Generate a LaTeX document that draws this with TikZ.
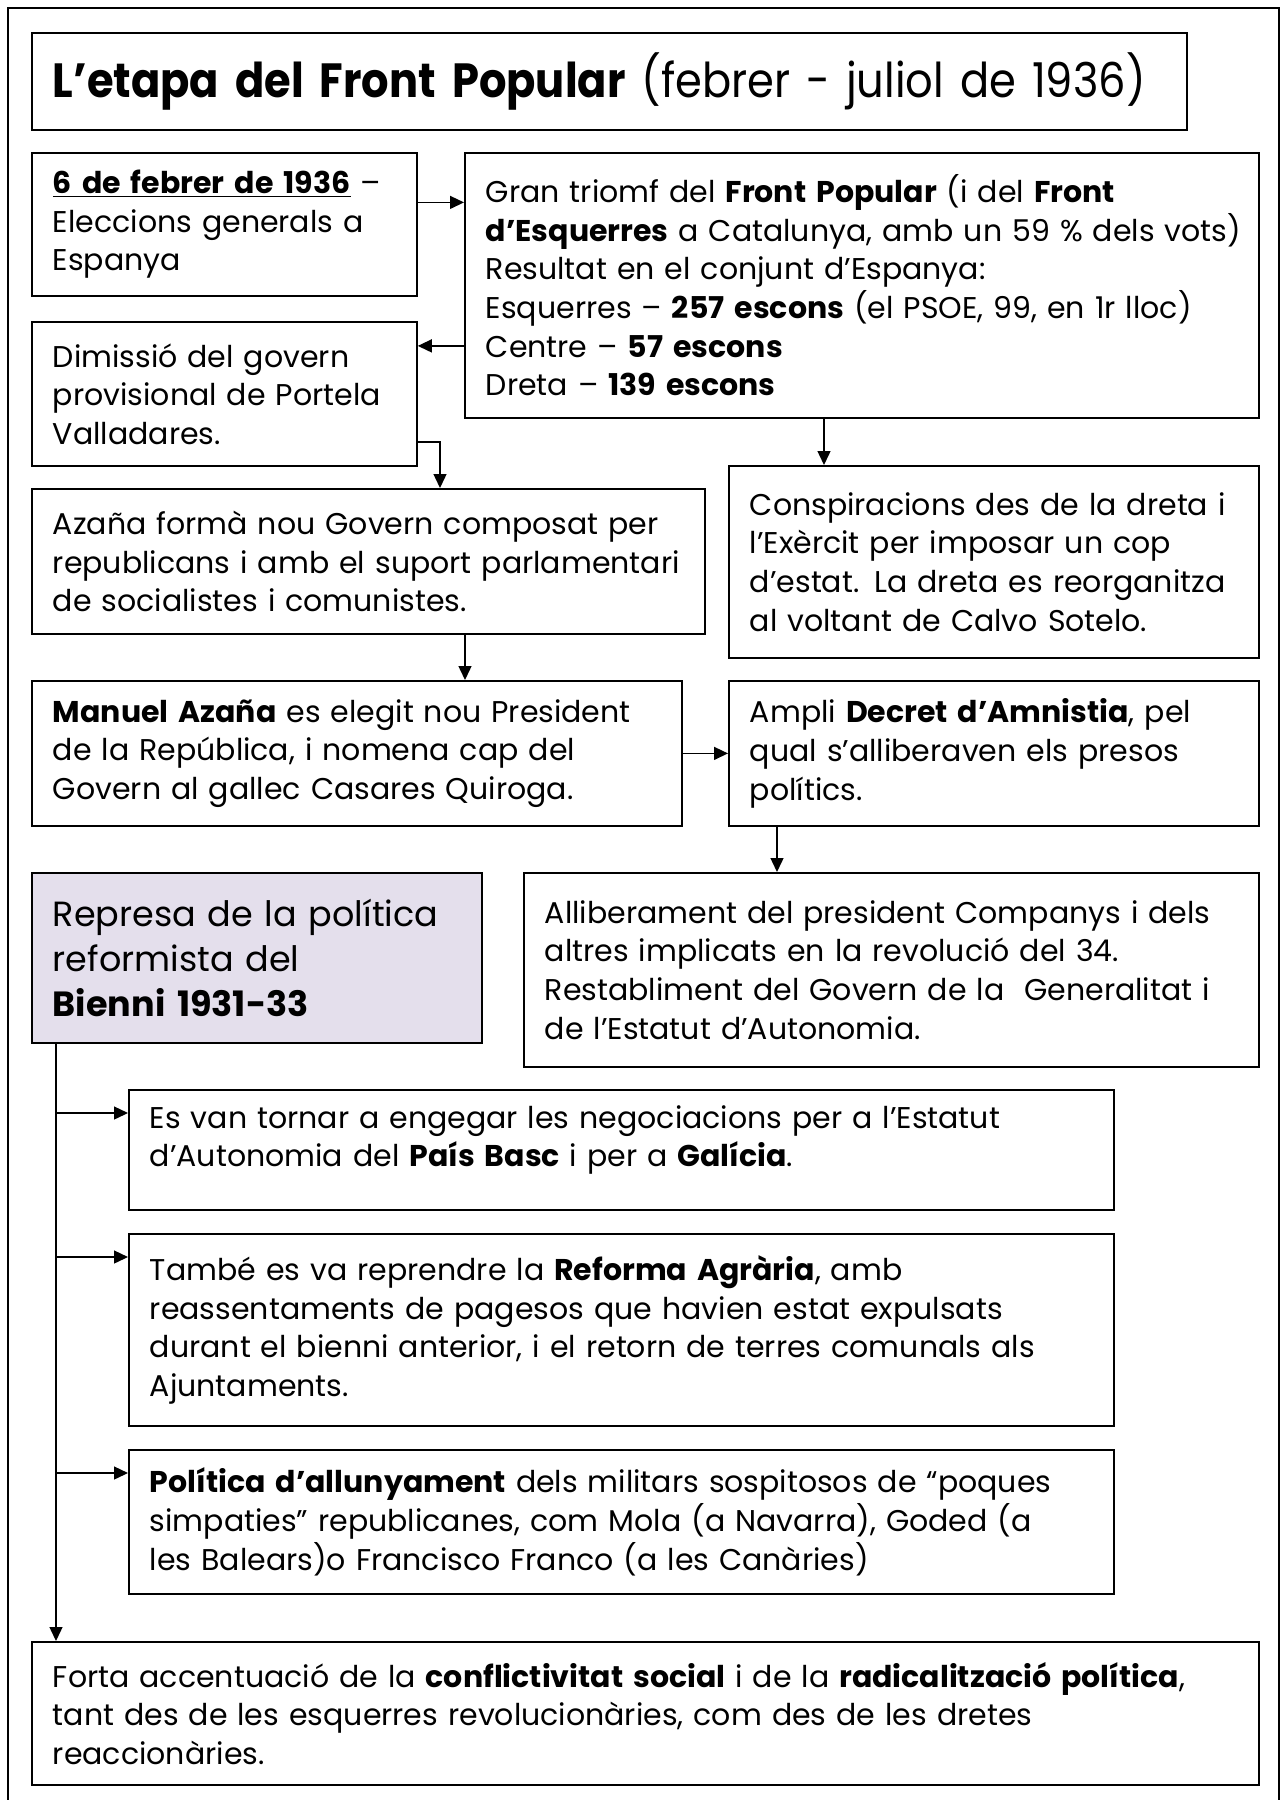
\documentclass[tikz,border=0pt]{standalone}
\usepackage{fontspec}
\setmainfont{Poppins}
\newfontfamily\titlefont{Poppins}[FakeStretch=0.9,BoldFeatures={FakeStretch=0.9}]
\usepackage{xcolor}
\usetikzlibrary{arrows.meta,calc}
\definecolor{lavanda}{RGB}{228,223,236}

\tikzset{
  box/.style={draw, line width=0.9pt, anchor=north west, align=left,
    inner xsep=10.5pt, inner ysep=0pt, font=\fontsize{15}{19.3}\selectfont},
  link/.style={-{Triangle[length=7pt,width=6.5pt]}, line width=0.7pt},
}

\begin{document}
\begin{tikzpicture}[x=0.5pt,y=-0.5pt]
    \useasboundingbox (0,0) rectangle (1284,1800);

    % Outer frame (open at the bottom of the page)
    \draw[line width=1.3pt] (8,1830) rectangle (1279,8);

    % Title
    \node[box, text width=556.5pt, minimum height=48.5pt, font=\titlefont\fontsize{24}{28}\selectfont] (title) at (31,32)
        {\textbf{L’etapa del Front Popular} (febrer - juliol de 1936)};

    % Elections
    \node[box, text width=171.5pt, minimum height=71.5pt] (b1) at (31,152)
        {\underline{\textbf{6 de febrer de 1936}} –\\ Eleccions generals a\\ Espanya};
    \node[box, text width=376pt, minimum height=132.5pt] (b2) at (464,152)
        {Gran triomf del \textbf{Front Popular} (i del \textbf{Front}\\
         \mbox{\textbf{d’Esquerres} a Catalunya, amb un 59 \% dels vots)}\\
         Resultat en el conjunt d’Espanya:\\
         Esquerres – \textbf{257 escons} (el PSOE, 99, en 1r lloc)\\
         Centre – \textbf{57 escons}\\
         Dreta – \textbf{139 escons}};
    \node[box, text width=171.5pt, minimum height=72pt] (b3) at (31,321)
        {Dimissió del govern\\ provisional de Portela\\ Valladares.};

    % New government
    \node[box, text width=315.5pt, minimum height=72.5pt] (b4) at (31,488)
        {Azaña formà nou Govern composat per\\ republicans i amb el suport parlamentari\\ de socialistes i comunistes.};
    \node[box, text width=244pt, minimum height=96pt] (con) at (728,465)
        {Conspiracions des de la dreta i\\ l’Exèrcit per imposar un cop\\ d’estat. La dreta es reorganitza\\ al voltant de Calvo Sotelo.};
    \node[box, text width=304pt, minimum height=72.5pt] (b5) at (31,680)
        {\textbf{Manuel Azaña} es elegit nou President\\ de la República, i nomena cap del\\ Govern al gallec Casares Quiroga.};
    \node[box, text width=244pt, minimum height=72.5pt] (b6) at (728,680)
        {Ampli \textbf{Decret d’Amnistia}, pel\\ qual s’alliberaven els presos\\ polítics.};

    % Reforms
    \node[box, fill=lavanda, text width=204pt, minimum height=85pt, font=\fontsize{17.5}{22.5}\selectfont] (rep) at (31,872)
        {Represa de la política\\ reformista del\\ \textbf{Bienni 1931-33}};
    \node[box, text width=346.5pt, minimum height=97pt] (allib) at (523,872)
        {Alliberament del president Companys i dels\\ altres implicats en la revolució del 34.\\ Restabliment del Govern de la~ Generalitat i\\ de l’Estatut d’Autonomia.};
    \node[box, text width=471.5pt, minimum height=60pt] (esv) at (128,1089)
        {Es van tornar a engegar les negociacions per a l’Estatut\\ d’Autonomia del \textbf{País Basc} i per a \textbf{Galícia}.\rule[-14pt]{0pt}{1pt}};
    \node[box, text width=471.5pt, minimum height=96pt] (tam) at (128,1233)
        {També es va reprendre la \textbf{Reforma Agrària}, amb\\ reassentaments de pagesos que havien estat expulsats\\ durant el bienni anterior, i el retorn de terres comunals als\\ Ajuntaments.};
    \node[box, text width=471.5pt, minimum height=72pt] (pol) at (128,1449)
        {\textbf{Política d’allunyament} dels militars sospitosos de “poques\\ simpaties” republicanes, com Mola (a Navarra), Goded (a\\ les Balears)o Francisco Franco (a les Canàries)};
    \node[box, text width=592.5pt, minimum height=71.5pt] (forta) at (31,1641)
        {Forta accentuació de la \textbf{conflictivitat social} i de la \textbf{radicalització política},\\ tant des de les esquerres revolucionàries, com des de les dretes\\ reaccionàries.};

    % Connectors
    \draw[link] ([yshift=11pt]b1.east) -- ([yshift=11pt]b1.east -| b2.west);
    \draw[link] ([yshift=24pt]b3.east -| b2.west) -- ([yshift=24pt]b3.east);
    \draw[link] ([yshift=-24pt]b3.east) -| ([xshift=204.5pt]b4.north west);
    \draw[link] ([xshift=180pt]b2.south west) -- ([xshift=180pt]b2.south west |- con.north);
    \draw[link] ([xshift=217pt]b4.south west) -- ([xshift=217pt]b4.south west |- b5.north);
    \draw[link] (b5.east) -- (b5.east -| b6.west);
    \draw[link] ([xshift=24.5pt]b6.south west) -- ([xshift=24.5pt]b6.south west |- allib.north);

    % Trunk from the reforms box
    \coordinate (trunk) at ([xshift=12.5pt]rep.south west);
    \draw[link] (trunk) -- (trunk |- forta.north);
    \foreach \b in {esv,tam,pol}
        \draw[link] ([yshift=-12pt]\b.north west -| trunk) -- ([yshift=-12pt]\b.north west);
\end{tikzpicture}
\end{document}
